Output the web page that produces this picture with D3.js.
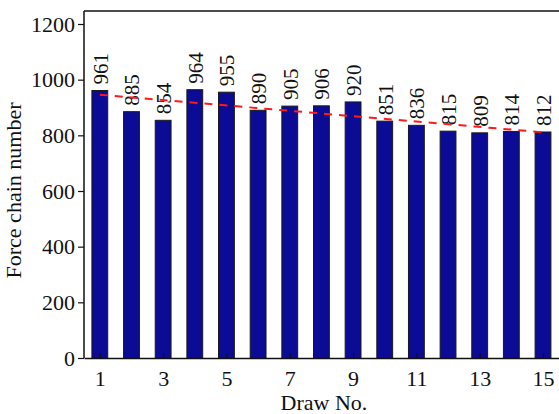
<!DOCTYPE html>
<html>
<head>
<meta charset="utf-8">
<script src="https://cdn.jsdelivr.net/npm/d3@7/dist/d3.min.js"></script>
<style>
  html, body { margin: 0; padding: 0; background: #fff; }
  svg { display: block; }
  text { font-family: "Liberation Serif", "Times New Roman", serif; fill: #111; }
</style>
</head>
<body>
<svg id="chart" width="559" height="414"></svg>
<script>
// Draw number and force chain count per draw
const draws = [1, 2, 3, 4, 5, 6, 7, 8, 9, 10, 11, 12, 13, 14, 15];
const chainCounts = [961, 885, 854, 964, 955, 890, 905, 906, 920, 851, 836, 815, 809, 814, 812];
// Linear trend endpoints (first and last draw)
const trendDraws = [1, 15];
const trendValues = [946, 811];
const yTicks = [0, 200, 400, 600, 800, 1000, 1200];
const xTicks = [1, 3, 5, 7, 9, 11, 13, 15];

const svg = d3.select("#chart");
const margin = { left: 84, top: 11, right: -3, bottom: 56 };
const W = 559, H = 414;
const innerRight = W - margin.right;
const innerBottom = H - margin.bottom;

const x = d3.scaleLinear().domain([0.5, 15.6]).range([margin.left, innerRight]);
const y = d3.scaleLinear().domain([0, 1200]).range([innerBottom, innerBottom - 1200 * 0.27833]);
const barW = x(1.25) - x(0.75);

// Bars
svg.append("g").selectAll("rect")
  .data(draws)
  .join("rect")
  .attr("x", (d) => x(d) - barW / 2)
  .attr("y", (d, i) => y(chainCounts[i]))
  .attr("width", barW)
  .attr("height", (d, i) => y(0) - y(chainCounts[i]))
  .attr("fill", "#0b0b96")
  .attr("stroke", "#1a1a1a")
  .attr("stroke-width", 1);

// Value labels, rotated above bars
svg.append("g").selectAll("text")
  .data(draws)
  .join("text")
  .attr("transform", (d, i) => `translate(${x(d) + 0.5},${y(chainCounts[i]) - 6}) rotate(-90)`)
  .attr("dy", "0.35em")
  .attr("text-anchor", "start")
  .attr("font-size", 21)
  .text((d, i) => chainCounts[i]);

// Trend line
const line = d3.line().x((d) => x(d[0])).y((d) => y(d[1]));
svg.append("path")
  .datum(trendDraws.map((d, i) => [d, trendValues[i]]))
  .attr("d", line)
  .attr("fill", "none")
  .attr("stroke", "#ff1a1a")
  .attr("stroke-width", 2)
  .attr("stroke-dasharray", "8,7");

// Frame: top line
svg.append("line")
  .attr("x1", margin.left).attr("x2", innerRight)
  .attr("y1", margin.top).attr("y2", margin.top)
  .attr("stroke", "#111").attr("stroke-width", 1.5);

// Left axis
const yAxis = d3.axisLeft(y).tickValues(yTicks).tickSize(6).tickPadding(3).tickSizeOuter(0)
  .tickFormat(d3.format("d"));
const gy = svg.append("g").attr("transform", `translate(${margin.left},0)`).call(yAxis);
gy.select(".domain").attr("stroke", "#111").attr("stroke-width", 1.5)
  .attr("d", `M0,${margin.top}V${innerBottom}`);
gy.selectAll(".tick line").attr("stroke", "#111").attr("stroke-width", 1.2);
gy.selectAll(".tick text").attr("font-size", 22).attr("font-family", "Liberation Serif, serif").attr("fill", "#111");

// Bottom axis, ticks pointing inward
const xAxis = d3.axisBottom(x).tickValues(xTicks).tickSize(-5).tickPadding(12).tickSizeOuter(0)
  .tickFormat(d3.format("d"));
const gx = svg.append("g").attr("transform", `translate(0,${innerBottom})`).call(xAxis);
gx.select(".domain").attr("stroke", "#111").attr("stroke-width", 1.5);
gx.selectAll(".tick line").attr("stroke", "#111").attr("stroke-width", 1.2);
gx.selectAll(".tick text").attr("font-size", 22).attr("font-family", "Liberation Serif, serif").attr("fill", "#111");

// Axis titles
svg.append("text")
  .attr("x", (margin.left + innerRight) / 2 + 1)
  .attr("y", 410)
  .attr("text-anchor", "middle")
  .attr("font-size", 22)
  .text("Draw No.");

svg.append("text")
  .attr("transform", `translate(21,${(margin.top + innerBottom) / 2 + 6}) rotate(-90)`)
  .attr("text-anchor", "middle")
  .attr("font-size", 22)
  .text("Force chain number");
</script>
</body>
</html>
